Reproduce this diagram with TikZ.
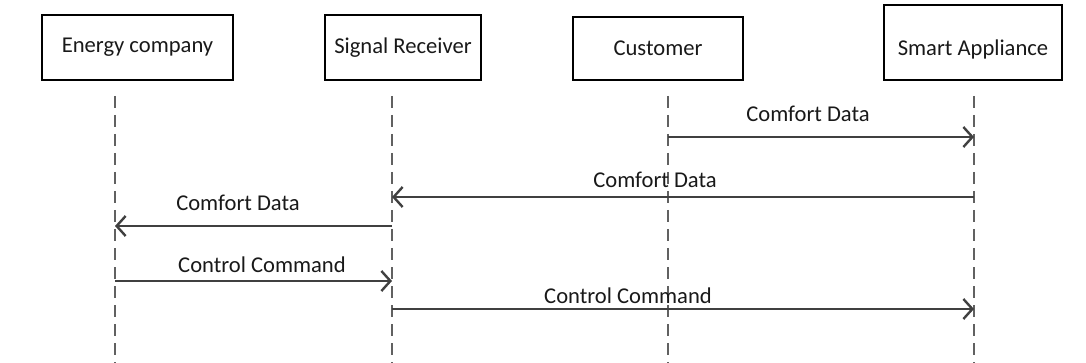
\documentclass[tikz,border=0pt]{standalone}
\usepackage{fontspec}
\setmainfont{Carlito}
\usetikzlibrary{arrows.meta, positioning}

\begin{document}
\begin{tikzpicture}[x=0.5pt, y=-0.5pt,
  every node/.style={font=\fontsize{11.3}{13}\selectfont, text=black!90},
  actor/.style={rectangle, draw=black, line width=1.3pt, inner sep=0pt},
  lifeline/.style={draw=black!62, line width=0.9pt, dash pattern=on 6pt off 3.5pt},
  msg/.style={draw=black!75, line width=1.3pt, -{Straight Barb[length=4.5pt, width=10pt, line width=1.2pt]}},
  msglabel/.style={anchor=base, inner sep=0pt}]

\useasboundingbox (0,0) rectangle (1086,363);

% Teilnehmer
\node[actor, minimum width=95.5pt, minimum height=32.5pt] (energy) at (137.5,47.5) {Energy company};
\node[actor, minimum width=78pt, minimum height=32.5pt] (receiver) at (403,47.5) {Signal Receiver};
\node[actor, minimum width=85pt, minimum height=31.5pt, text height=9pt, text depth=2pt] (customer) at (658,48.5) {Customer};
\node[actor, minimum width=89pt, minimum height=37.5pt, text height=15pt, text depth=2pt] (appliance) at (973,42.5) {Smart Appliance};

% Lebenslinien
\coordinate (energyTop) at (115,96);
\coordinate (energyEnd) at (115,363);
\coordinate (receiverTop) at (392,96);
\coordinate (receiverEnd) at (392,363);
\coordinate (customerTop) at (668,96);
\coordinate (customerEnd) at (668,363);
\coordinate (applianceTop) at (974,96);
\coordinate (applianceEnd) at (974,363);

\draw[lifeline] (energyTop) -- (energyEnd);
\draw[lifeline] (receiverTop) -- (receiverEnd);
\draw[lifeline] (customerTop) -- (customerEnd);
\draw[lifeline] (applianceTop) -- (applianceEnd);

% Nachrichten
\draw[msg] (customerTop |- 0,137) -- (applianceTop |- 0,137);
\node[msglabel] (msgA) at (808,122) {Comfort Data};

\draw[msg] (applianceTop |- 0,197) -- (receiverTop |- 0,197);
\node[msglabel] (msgB) at (655,188) {Comfort Data};

\draw[msg] (receiverTop |- 0,226) -- (energyTop |- 0,226);
\node[msglabel] (msgC) at (238,211) {Comfort Data};

\draw[msg] (energyTop |- 0,281) -- (receiverTop |- 0,281);
\node[msglabel] (msgD) at (262,272) {Control Command};

\draw[msg] (receiverTop |- 0,309) -- (applianceTop |- 0,309);
\node[msglabel] (msgE) at (628,303) {Control Command};

\end{tikzpicture}
\end{document}
